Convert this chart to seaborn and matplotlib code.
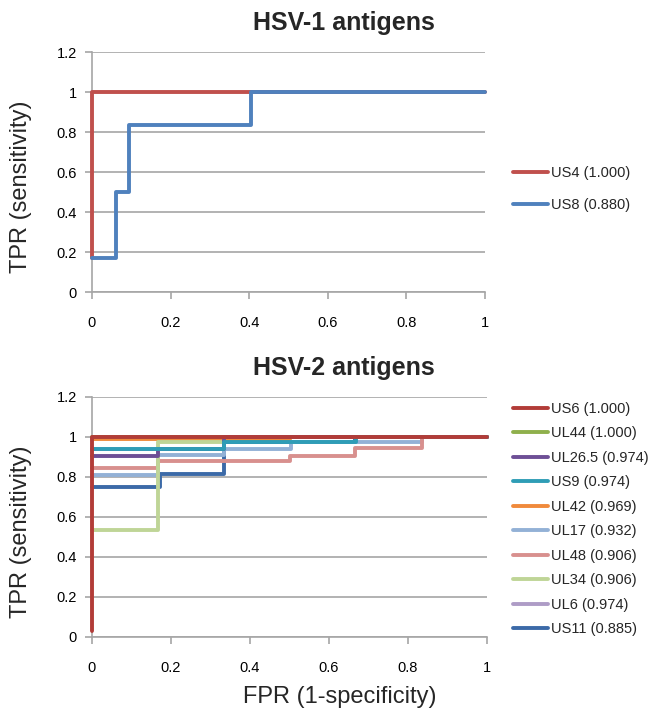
import pandas as pd
import seaborn as sns
import matplotlib.pyplot as plt
from matplotlib.lines import Line2D

sns.set_theme(style="white")
plt.rcParams['font.family'] = ['Liberation Sans', 'DejaVu Sans']

# HSV-1 antigens: (FPR, TPR) points of each ROC curve
hsv1_names = ['US4', 'US8']
hsv1_auc = ['1.000', '0.880']
hsv1_fpr = [
    [0, 0, 1],
    [0, 0.062, 0.062, 0.095, 0.095, 0.404, 0.404, 1],
]
hsv1_tpr = [
    [0.17, 1, 1],
    [0.17, 0.17, 0.5, 0.5, 0.833, 0.833, 1, 1],
]
hsv1_colors = ['#C0504D', '#4F81BD']
hsv1_draw_order = ['US4', 'US8']

# HSV-2 antigens
hsv2_names = ['US6', 'UL44', 'UL26.5', 'US9', 'UL42', 'UL17', 'UL48', 'UL34', 'UL6', 'US11']
hsv2_auc = ['1.000', '1.000', '0.974', '0.974', '0.969', '0.932', '0.906', '0.906', '0.974', '0.885']
hsv2_fpr = [
    [0, 0, 1],
    [0, 1],
    [0, 0.167, 0.167, 0.334, 0.334, 1],
    [0, 0.334, 0.334, 0.668, 0.668, 1],
    [0, 0.5, 0.5, 1],
    [0, 0.167, 0.167, 0.334, 0.334, 0.503, 0.503, 0.835, 0.835, 1],
    [0, 0.167, 0.167, 0.5, 0.5, 0.667, 0.667, 0.835, 0.835, 1],
    [0, 0.167, 0.167, 0.334, 0.334, 1],
    [0, 0.334, 0.334, 1],
    [0, 0.172, 0.172, 0.334, 0.334, 0.667, 0.667, 1],
]
hsv2_tpr = [
    [0.03, 1, 1],
    [1, 1],
    [0.907, 0.907, 0.942, 0.942, 1, 1],
    [0.94, 0.94, 0.973, 0.973, 1, 1],
    [0.992, 0.992, 1, 1],
    [0.812, 0.812, 0.908, 0.908, 0.94, 0.94, 0.973, 0.973, 1, 1],
    [0.845, 0.845, 0.878, 0.878, 0.907, 0.907, 0.945, 0.945, 1, 1],
    [0.533, 0.533, 0.973, 0.973, 1, 1],
    [0.94, 0.94, 1, 1],
    [0.75, 0.75, 0.815, 0.815, 0.973, 0.973, 1, 1],
]
hsv2_colors = ['#B23C38', '#8FB04C', '#6E4F96', '#2F9DB6', '#F08A3C', '#93B1D6',
               '#D8908E', '#BFD597', '#AE9CC6', '#3C6AA8']
# bottom to top
hsv2_draw_order = ['US11', 'UL6', 'UL42', 'UL44', 'UL17', 'UL48', 'UL34', 'UL26.5', 'US9', 'US6']

x_ticks = [0, 0.2, 0.4, 0.6, 0.8, 1]
y_ticks = [0, 0.2, 0.4, 0.6, 0.8, 1, 1.2]

W, H = 655, 718


def to_frame(names, fprs, tprs):
    rows = []
    for n, xs, ys in zip(names, fprs, tprs):
        for k, (x, y) in enumerate(zip(xs, ys)):
            rows.append({'antigen': n, 'order': k, 'fpr': x, 'tpr': y})
    return pd.DataFrame(rows)


def style_axis(ax):
    ax.set_xlim(0, 1)
    ax.set_ylim(0, 1.2)
    ax.set_xticks(x_ticks)
    ax.set_xticklabels(['0', '0.2', '0.4', '0.6', '0.8', '1'])
    ax.set_yticks(y_ticks)
    ax.set_yticklabels(['0', '0.2', '0.4', '0.6', '0.8', '1', '1.2'])
    ax.yaxis.grid(True, color='#A6A6A6', linewidth=1.2)
    ax.set_axisbelow(True)
    for s in ['top', 'right']:
        ax.spines[s].set_visible(False)
    for s in ['left', 'bottom']:
        ax.spines[s].set_color('#A6A6A6')
        ax.spines[s].set_linewidth(1.2)
    ax.tick_params(axis='x', which='both', bottom=True, length=5, width=1.2,
                   color='#A6A6A6', pad=12, labelsize=10.5, labelcolor='black')
    ax.tick_params(axis='y', which='both', left=True, length=5, width=1.2,
                   color='#A6A6A6', pad=6, labelsize=10.5, labelcolor='black')
    ax.set_xlabel('')
    ax.set_ylabel('')


def draw(ax, names, fprs, tprs, colors, draw_order):
    df = to_frame(names, fprs, tprs)
    for z, n in enumerate(draw_order):
        i = names.index(n)
        sub = df[df['antigen'] == n]
        sns.lineplot(data=sub, x='fpr', y='tpr', sort=False, estimator=None,
                     color=colors[i], linewidth=2.8, ax=ax, legend=False,
                     zorder=3 + z * 0.01, clip_on=False)


def add_legend(ax, names, aucs, colors, center_y, spacing):
    handles = [Line2D([0], [0], color=c, linewidth=2.8) for c in colors]
    labels = [f'{n} ({a})' for n, a in zip(names, aucs)]
    ax.legend(handles, labels, loc='center left',
              bbox_to_anchor=(513 / W, 1 - center_y / H), bbox_transform=fig.transFigure,
              frameon=False, fontsize=10.5, handlelength=2.4, handletextpad=0.2,
              labelspacing=spacing, borderpad=0, borderaxespad=0)


fig = plt.figure(figsize=(W / 100, H / 100), dpi=100)
ax1 = fig.add_axes([92 / W, 1 - 292 / H, 393 / W, 240 / H])
ax2 = fig.add_axes([92 / W, 1 - 637 / H, 395 / W, 240 / H])

draw(ax1, hsv1_names, hsv1_fpr, hsv1_tpr, hsv1_colors, hsv1_draw_order)
draw(ax2, hsv2_names, hsv2_fpr, hsv2_tpr, hsv2_colors, hsv2_draw_order)
style_axis(ax1)
style_axis(ax2)
add_legend(ax1, hsv1_names, hsv1_auc, hsv1_colors, 189, 1.24)
add_legend(ax2, hsv2_names, hsv2_auc, hsv2_colors, 519, 0.72)

# titles and axis labels are centred over the whole chart area, as in the original
fig.text(344 / W, 1 - 23 / H, 'HSV-1 antigens', ha='center', va='center',
         fontsize=18, fontweight='bold')
fig.text(344 / W, 1 - 368 / H, 'HSV-2 antigens', ha='center', va='center',
         fontsize=18, fontweight='bold')
fig.text(21 / W, 1 - 187 / H, 'TPR (sensitivity)', rotation=90, ha='center',
         va='center', fontsize=17)
fig.text(21 / W, 1 - 532 / H, 'TPR (sensitivity)', rotation=90, ha='center',
         va='center', fontsize=17)
fig.text(340 / W, 1 - 697 / H, 'FPR (1-specificity)', ha='center', va='center',
         fontsize=17)

plt.savefig('out.png', dpi=100)
